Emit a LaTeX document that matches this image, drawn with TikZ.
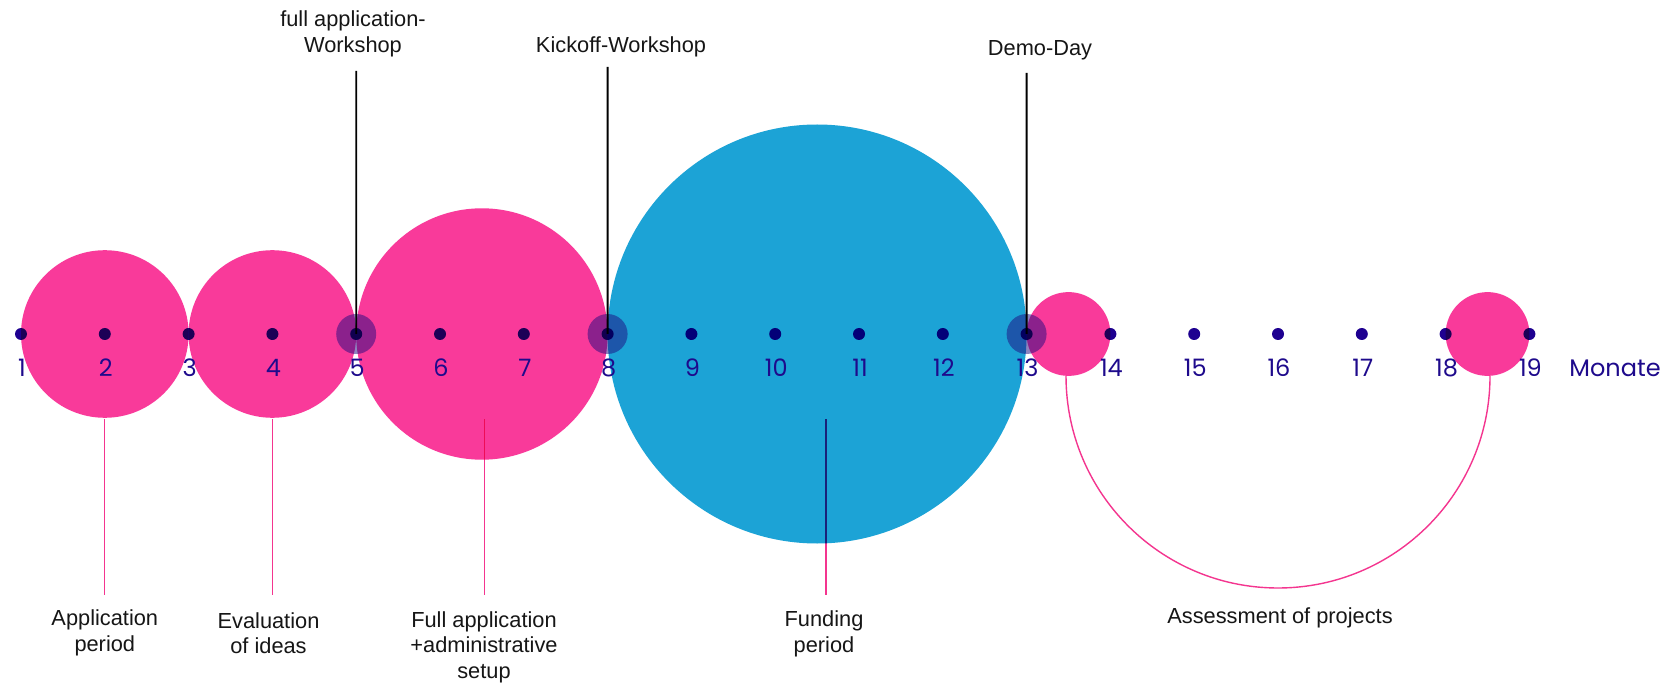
\documentclass[tikz,border=0pt]{standalone}
\usepackage{fontspec}
\setmainfont{Liberation Sans}
\newfontfamily\numfont{Poppins}
\definecolor{pinkc}{HTML}{F93A9A}
\definecolor{bluec}{HTML}{1CA3D6}
\definecolor{indigoc}{HTML}{1E0090}
\definecolor{haloc}{HTML}{1E0A80}
\definecolor{numc}{HTML}{1E0A8C}
\definecolor{linepink}{HTML}{F4358F}
\definecolor{txtc}{HTML}{161616}
\begin{document}
\begin{tikzpicture}[x=1pt,y=-1pt,
  lbl/.style={text=txtc,font=\fontsize{21.8}{25.5}\selectfont,align=center,inner sep=0pt},
  num/.style={text=numc,font=\numfont\fontsize{24}{27}\selectfont,inner sep=0pt},
  dotnode/.style={circle,fill=indigoc,minimum size=12pt,inner sep=0pt},
  halonode/.style={circle,fill=haloc,fill opacity=0.5,minimum size=40pt,inner sep=0pt},
  bubble/.style={circle,inner sep=0pt,draw=none},
  pinkline/.style={draw=linepink,line width=1.2pt},
  blackline/.style={draw=black,line width=1.8pt}]
\useasboundingbox (0,0) rectangle (1675,684);
\fill[white] (0,0) rectangle (1675,684);
% bubbles
\node[bubble,fill=pinkc,minimum size=167.6pt] (c1) at (104.8,334) {};
\node[bubble,fill=pinkc,minimum size=167.6pt] (c2) at (272.4,334) {};
\node[bubble,fill=pinkc,minimum size=251.4pt] (c3) at (481.9,334) {};
\node[bubble,fill=bluec,minimum size=419pt] (c4) at (817.1,334) {};
\node[bubble,fill=pinkc,minimum size=83.8pt] (c5) at (1068.5,334) {};
\node[bubble,fill=pinkc,minimum size=83.8pt] (c6) at (1487.5,334) {};
% halos
\node[halonode] (h5) at (356.2,334) {};
\node[halonode] (h8) at (607.6,334) {};
\node[halonode] (h13) at (1026.6,334) {};
% dots
\begin{scope}[blend mode=multiply]
\foreach \i in {1,...,19}{
  \pgfmathsetmacro{\xx}{21+83.8*(\i-1)}
  \node[dotnode] (d\i) at (\xx,334) {};
}
\end{scope}
% numbers
\foreach \i in {1,...,19}{
  \pgfmathsetmacro{\xx}{22+83.8*(\i-1)}
  \node[num] (n\i) at (\xx,368) {\i};
}
\node[num] (mon) at (1615,368) {Monate};
% bottom labels
\node[lbl] (l1) at (104.8,633) {Application\\period};
\node[lbl] (l2) at (268.5,633) {Evaluation\\of ideas};
\node[lbl] (l3) at (484,647) {Full application\\+administrative\\setup};
\node[lbl] (l4) at (824,634) {Funding\\period};
\node[lbl] (l5) at (1280,618) {Assessment of projects};
% top labels
\node[lbl] (t5) at (353,34) {full application-\\Workshop};
\node[lbl] (t8) at (621,47) {Kickoff-Workshop};
\node[lbl] (t13) at (1040,50) {Demo-Day};
% pink connectors
\coordinate (a1) at (104.8,419); \coordinate (b1) at (104.8,595);
\coordinate (a2) at (272.4,419); \coordinate (b2) at (272.4,595);
\coordinate (a3) at (484.3,419); \coordinate (b3) at (484.3,595);
\coordinate (a4) at (826,419);   \coordinate (b4) at (826,595);
\coordinate (a5) at (1066,376);
\begin{scope}[blend mode=multiply]
\draw[pinkline] (a1) -- (b1);
\draw[pinkline] (a2) -- (b2);
\draw[pinkline] (a3) -- (b3);
\draw[pinkline] (a4) -- (b4);
\draw[pinkline,line width=1.4pt] (a5) arc[start angle=180,end angle=0,radius=212];
\end{scope}
% black connectors
\coordinate (k5) at (356.2,71);
\coordinate (k8) at (607.6,67);
\coordinate (k13) at (1026.6,73);
\draw[blackline] (k5) -- (d5.center);
\draw[blackline] (k8) -- (d8.center);
\draw[blackline] (k13) -- (d13.center);
\end{tikzpicture}
\end{document}
